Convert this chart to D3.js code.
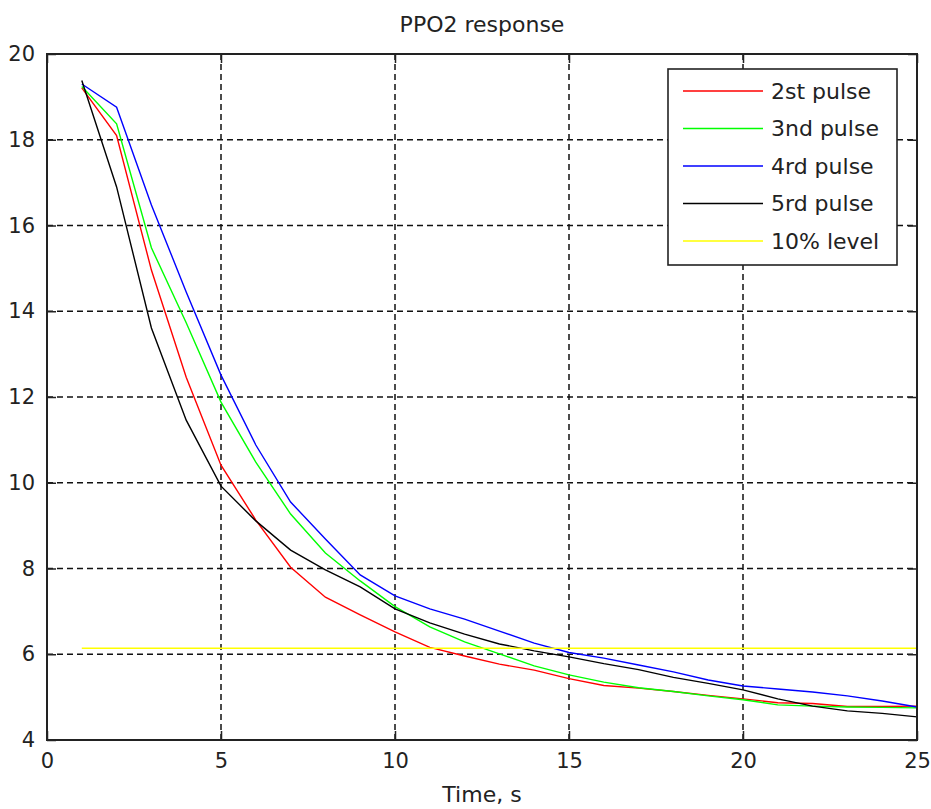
<!DOCTYPE html>
<html>
<head>
<meta charset="utf-8">
<script src="https://cdn.jsdelivr.net/npm/d3@7"></script>
<style>
  html, body { margin: 0; padding: 0; background: #fff; }
  svg { display: block; font-family: "DejaVu Sans", sans-serif; }
</style>
</head>
<body>
<svg id="chart" width="931" height="809"></svg>
<script>
// Sample times, seconds
const time = [1,2,3,4,5,6,7,8,9,10,11,12,13,14,15,16,17,18,19,20,21,22,23,24,25];

// PPO2 readings for each pulse
const pulse2 = [19.21,18.10,14.96,12.46,10.41,9.13,8.03,7.33,6.92,6.52,6.16,5.96,5.77,5.63,5.43,5.27,5.21,5.13,5.04,4.96,4.87,4.85,4.78,4.78,4.79];
const pulse3 = [19.24,18.37,15.48,13.73,11.88,10.48,9.27,8.36,7.71,7.11,6.64,6.29,6.01,5.73,5.52,5.35,5.22,5.13,5.03,4.94,4.82,4.79,4.77,4.76,4.75];
const pulse4 = [19.30,18.76,16.48,14.45,12.51,10.88,9.55,8.69,7.85,7.36,7.06,6.82,6.54,6.26,6.04,5.91,5.75,5.59,5.40,5.26,5.19,5.12,5.03,4.91,4.77];
const pulse5 = [19.38,16.90,13.61,11.46,9.92,9.11,8.43,7.97,7.57,7.06,6.73,6.47,6.24,6.08,5.94,5.78,5.64,5.46,5.32,5.17,4.96,4.79,4.68,4.62,4.54];
const level10 = 6.14;

const seriesNames = ["2st pulse", "3nd pulse", "4rd pulse", "5rd pulse", "10% level"];
const seriesColors = ["#ff0000", "#00ff00", "#0000ff", "#000000", "#ffff00"];

const xTicks = [0,5,10,15,20,25];
const yTicks = [4,6,8,10,12,14,16,18,20];

const titleText = "PPO2 response";
const xLabelText = "Time, s";

const margin = {left: 47, top: 54, right: 14, bottom: 69};
const W = 931, H = 809;
const pw = W - margin.left - margin.right;
const ph = H - margin.top - margin.bottom;

const svg = d3.select("#chart");
const g = svg.append("g").attr("transform", `translate(${margin.left},${margin.top})`);

const x = d3.scaleLinear().domain([0, 25]).range([0, pw]);
const y = d3.scaleLinear().domain([4, 20]).range([ph, 0]);

// dashed grid
const grid = g.append("g").attr("stroke", "#111").attr("stroke-width", 1.5)
  .attr("stroke-dasharray", "6,4").attr("fill", "none");
grid.selectAll("line.gx").data(xTicks.slice(1, -1)).join("line")
  .attr("x1", d => x(d)).attr("x2", d => x(d)).attr("y1", 0).attr("y2", ph);
grid.selectAll("line.gy").data(yTicks.slice(1, -1)).join("line")
  .attr("x1", 0).attr("x2", pw).attr("y1", d => y(d)).attr("y2", d => y(d));

// data lines
const line = d3.line().x((d, i) => x(time[i])).y(d => y(d));
const data = [pulse2, pulse3, pulse4, pulse5];
data.forEach((s, k) => {
  g.append("path").datum(s).attr("d", line)
    .attr("fill", "none").attr("stroke", seriesColors[k]).attr("stroke-width", 1.4);
});
// 10% level
g.append("path").datum(time.map(() => level10)).attr("d", line)
  .attr("fill", "none").attr("stroke", seriesColors[4]).attr("stroke-width", 1.6);

// axes with inward ticks on all sides
const tickLen = 9;
const axStyle = sel => {
  sel.select(".domain").remove();
  sel.selectAll(".tick line").attr("stroke", "#222").attr("stroke-width", 1.5);
};
g.append("g").attr("transform", `translate(0,${ph})`)
  .call(d3.axisBottom(x).tickValues(xTicks).tickSizeInner(-tickLen).tickSizeOuter(0).tickPadding(13))
  .call(axStyle)
  .call(s => s.selectAll("text").attr("font-size", 21).attr("fill", "#222").attr("font-family", "DejaVu Sans"));
g.append("g")
  .call(d3.axisTop(x).tickValues(xTicks).tickSizeInner(-tickLen).tickSizeOuter(0).tickFormat(""))
  .call(axStyle);
g.append("g")
  .call(d3.axisLeft(y).tickValues(yTicks).tickSizeInner(-tickLen).tickSizeOuter(0).tickPadding(12))
  .call(axStyle)
  .call(s => s.selectAll("text").attr("font-size", 21).attr("fill", "#222").attr("font-family", "DejaVu Sans"));
g.append("g").attr("transform", `translate(${pw},0)`)
  .call(d3.axisRight(y).tickValues(yTicks).tickSizeInner(-tickLen).tickSizeOuter(0).tickFormat(""))
  .call(axStyle);

// axes box
g.append("rect").attr("x", 0).attr("y", 0).attr("width", pw).attr("height", ph)
  .attr("fill", "none").attr("stroke", "#222").attr("stroke-width", 2);

// title and axis label
svg.append("text").attr("x", margin.left + pw / 2).attr("y", 32)
  .attr("text-anchor", "middle").attr("font-size", 22).attr("fill", "#222").text(titleText);
svg.append("text").attr("x", margin.left + pw / 2).attr("y", 802)
  .attr("text-anchor", "middle").attr("font-size", 22).attr("fill", "#222").text(xLabelText);

// legend
const lg = svg.append("g").attr("transform", "translate(668,69)");
lg.append("rect").attr("x", 0).attr("y", 0).attr("width", 229).attr("height", 196)
  .attr("fill", "#fff").attr("stroke", "#222").attr("stroke-width", 1.6);
const rowY = d3.scaleLinear().domain([0, 4]).range([22, 172]);
seriesNames.forEach((name, i) => {
  lg.append("line").attr("x1", 15).attr("x2", 95).attr("y1", rowY(i)).attr("y2", rowY(i))
    .attr("stroke", seriesColors[i]).attr("stroke-width", 1.5);
  lg.append("text").attr("x", 103).attr("y", rowY(i)).attr("dy", "0.36em")
    .attr("font-size", 22).attr("fill", "#222").text(name);
});
</script>
</body>
</html>
